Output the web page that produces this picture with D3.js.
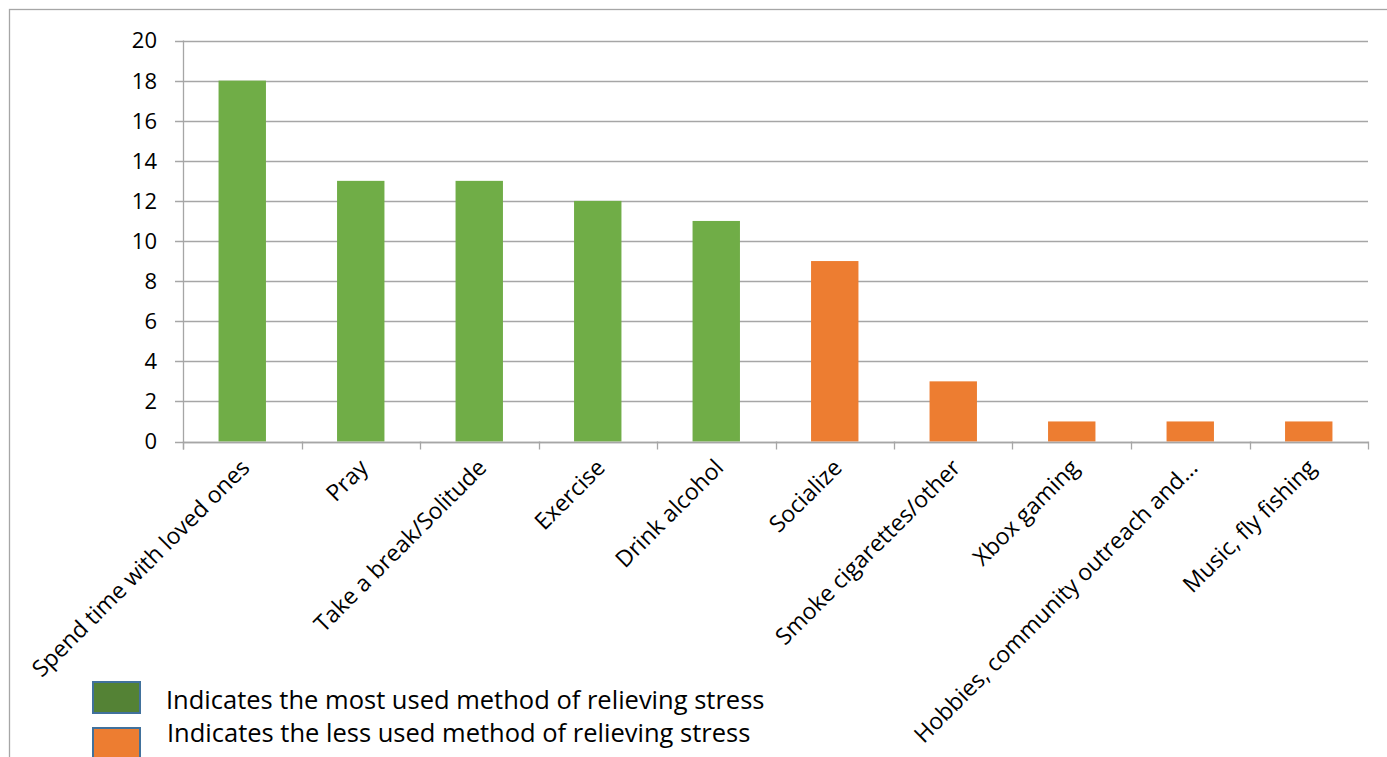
<!DOCTYPE html>
<html>
  <head>
    <meta http-equiv="Content-Type" content="text/html;charset=utf-8"/>
    <script src="https://d3js.org/d3.v7.min.js"></script>
    <style type="text/css">
    body { margin: 0; background: #fff; }
    text { font-family: "Open Sans", sans-serif; fill: #000; }
    .grid-line { stroke: #a6a6a6; stroke-width: 1.3px; }
    .axis-line { stroke: #a6a6a6; stroke-width: 1.3px; }
    </style>
  </head>
  <body>
    <script type="text/javascript">
      var categories = ["Spend time with loved ones", "Pray", "Take a break/Solitude", "Exercise",
        "Drink alcohol", "Socialize", "Smoke cigarettes/other", "Xbox gaming",
        "Hobbies, community outreach and...", "Music, fly fishing"];
      var counts = [18, 13, 13, 12, 11, 9, 3, 1, 1, 1];
      var usage = ["most", "most", "most", "most", "most", "less", "less", "less", "less", "less"];
      var yTicks = [0, 2, 4, 6, 8, 10, 12, 14, 16, 18, 20];
      var legendLabels = ["Indicates the most used method of relieving stress",
        "Indicates the less used method of relieving stress"];

      var width = 1387, height = 757;
      var plotLeft = 183, plotRight = 1368, plotTop = 40.5, plotBottom = 441.5;

      var barColor = { most: "#70ad47", less: "#ed7d31" };
      var legendColor = { most: "#548235", less: "#ed7d31" };

      var svg = d3.select("body").append("svg")
          .attr("width", width)
          .attr("height", height);

      // outer frame (only top and left edges are visible)
      svg.append("rect")
          .attr("x", 9.5).attr("y", 9.5)
          .attr("width", width + 20).attr("height", height + 20)
          .attr("fill", "none")
          .attr("stroke", "#a6a6a6")
          .attr("stroke-width", 1.3);

      var x = d3.scaleBand()
          .domain(categories)
          .range([plotLeft, plotRight])
          .paddingInner(0.6)
          .paddingOuter(0.3);

      var xEdge = d3.scaleLinear()
          .domain([0, categories.length])
          .range([plotLeft, plotRight]);

      var y = d3.scaleLinear()
          .domain([0, 20])
          .range([plotBottom, plotTop]);

      // horizontal grid + y labels
      var yAxis = d3.axisLeft(y)
          .tickValues(yTicks)
          .tickSize(0)
          .tickPadding(18);

      svg.selectAll("line.grid-line")
        .data(yTicks)
        .enter().append("line")
          .classed("grid-line", true)
          .attr("x1", plotLeft - 8)
          .attr("x2", plotRight)
          .attr("y1", function(d) { return Math.round(y(d)) + 0.5; })
          .attr("y2", function(d) { return Math.round(y(d)) + 0.5; });

      var gy = svg.append("g")
          .attr("transform", "translate(" + (plotLeft - 8) + ",0)")
          .call(yAxis);
      gy.select(".domain").remove();
      gy.selectAll("text")
          .attr("font-family", null)
          .attr("font-size", null)
          .style("font-size", "22px")
          .attr("dy", "0.34em");

      // bars
      svg.selectAll("rect.bar")
        .data(categories)
        .enter().append("rect")
          .classed("bar", true)
          .attr("x", function(d) { return x(d); })
          .attr("width", x.bandwidth())
          .attr("y", function(d, i) { return y(counts[i]); })
          .attr("height", function(d, i) { return plotBottom - y(counts[i]); })
          .attr("fill", function(d, i) { return barColor[usage[i]]; });

      // axis lines and category tick marks
      svg.append("line")
          .classed("axis-line", true)
          .attr("x1", plotLeft + 0.5).attr("x2", plotLeft + 0.5)
          .attr("y1", plotTop).attr("y2", plotBottom + 8);

      svg.append("line")
          .classed("axis-line", true)
          .attr("x1", plotLeft).attr("x2", plotRight)
          .attr("y1", Math.round(plotBottom) + 0.5).attr("y2", Math.round(plotBottom) + 0.5);

      svg.selectAll("line.cat-tick")
        .data(d3.range(categories.length + 1))
        .enter().append("line")
          .classed("axis-line", true)
          .classed("cat-tick", true)
          .attr("x1", function(d) { return Math.round(xEdge(d)) + 0.5; })
          .attr("x2", function(d) { return Math.round(xEdge(d)) + 0.5; })
          .attr("y1", plotBottom)
          .attr("y2", plotBottom + 8);

      // rotated category labels
      svg.selectAll("text.cat-label")
        .data(categories)
        .enter().append("text")
          .classed("cat-label", true)
          .attr("transform", function(d) {
            return "translate(" + (x(d) + x.bandwidth() / 2 + 3) + "," + (plotBottom + 22) + ") rotate(-45)";
          })
          .attr("text-anchor", "end")
          .attr("dy", "0.35em")
          .style("font-size", "23px")
          .text(function(d) { return d; });

      // legend
      var legend = svg.selectAll("g.legend")
        .data(["most", "less"])
        .enter().append("g")
          .classed("legend", true)
          .attr("transform", function(d, i) { return "translate(93," + (682 + i * 46) + ")"; });

      legend.append("rect")
          .attr("width", 47)
          .attr("height", 31)
          .attr("fill", function(d) { return legendColor[d]; })
          .attr("stroke", "#41719c")
          .attr("stroke-width", 2);

      legend.append("text")
          .attr("x", function(d, i) { return i === 0 ? 73 : 74; })
          .attr("y", function(d, i) { return i === 0 ? 27 : 14; })
          .style("font-size", "25.5px")
          .text(function(d, i) { return legendLabels[i]; });
    </script>
  </body>
</html>
